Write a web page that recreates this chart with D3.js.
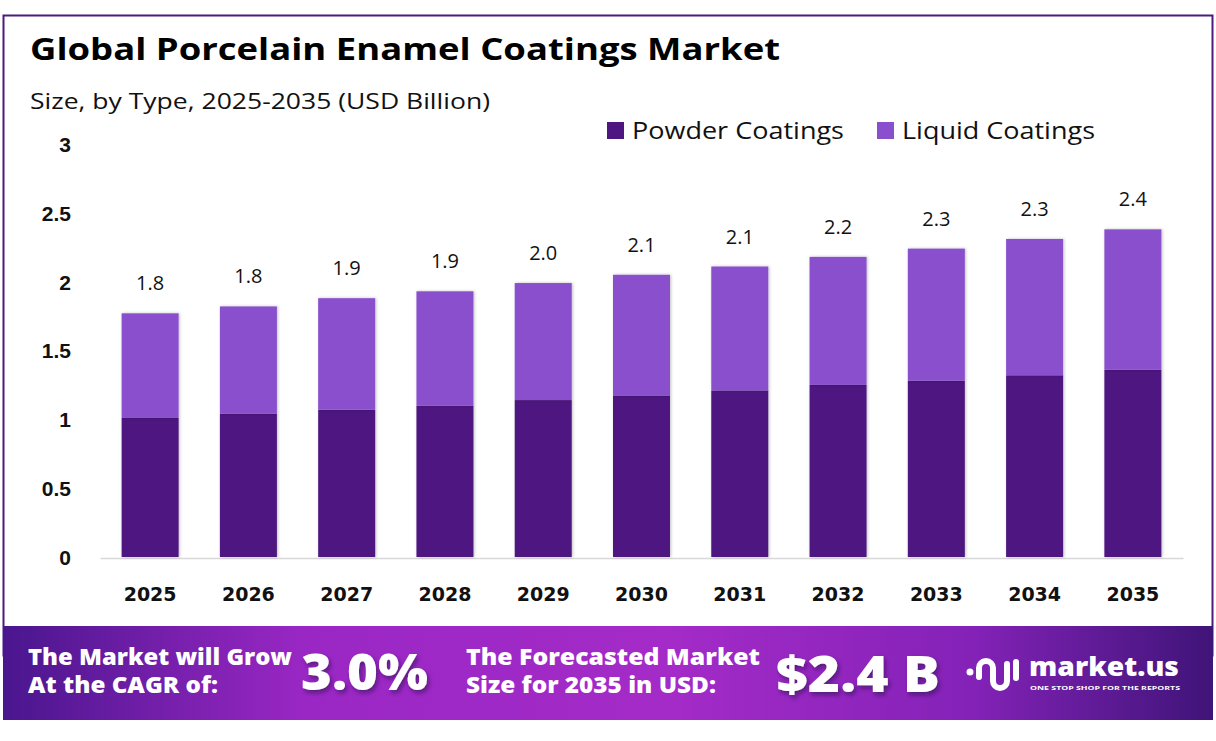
<html>
<head>
<title>Porcelain Enamel Coatings</title>
<script src="https://d3js.org/d3.v7.min.js"></script>
<style>
  body { margin: 0; background: #fff; }
  svg { font-family: "Open Sans", "Noto Sans", sans-serif; }
</style>
</head>
<body>
<script>
// data (USD Billion)
var years = ["2025","2026","2027","2028","2029","2030","2031","2032","2033","2034","2035"];
var powder = [1.01, 1.04, 1.07, 1.10, 1.14, 1.17, 1.21, 1.25, 1.28, 1.32, 1.36];
var liquid = [0.76, 0.78, 0.81, 0.83, 0.85, 0.88, 0.90, 0.93, 0.96, 0.99, 1.02];
var totalLabels = ["1.8","1.8","1.9","1.9","2.0","2.1","2.1","2.2","2.3","2.3","2.4"];
var yTicks = [0, 0.5, 1, 1.5, 2, 2.5, 3];
var seriesNames = ["Powder Coatings", "Liquid Coatings"];
var colors = ["#4e1681", "#8a4fcc"];

var W = 1216, H = 741;
var svg = d3.select("body").append("svg").attr("width", W).attr("height", H);

var defs = svg.append("defs");
var shadow = defs.append("filter").attr("id", "sh").attr("x", "-20%").attr("y", "-10%").attr("width", "140%").attr("height", "120%");
shadow.append("feDropShadow").attr("dx", 1).attr("dy", 0).attr("stdDeviation", 1.5).attr("flood-color", "#000").attr("flood-opacity", 0.25);

var grad = defs.append("linearGradient").attr("id", "foot").attr("x1", "0").attr("x2", "1").attr("y1", "0").attr("y2", "0");
grad.append("stop").attr("offset", "0").attr("stop-color", "#4a168e");
grad.append("stop").attr("offset", "0.25").attr("stop-color", "#9a27c4");
grad.append("stop").attr("offset", "0.55").attr("stop-color", "#a42bc8");
grad.append("stop").attr("offset", "0.8").attr("stop-color", "#8422b8");
grad.append("stop").attr("offset", "1").attr("stop-color", "#3f1478");

var textShadow = defs.append("filter").attr("id", "tsh").attr("x", "-10%").attr("y", "-10%").attr("width", "130%").attr("height", "140%");
textShadow.append("feDropShadow").attr("dx", 2).attr("dy", 3).attr("stdDeviation", 2).attr("flood-color", "#2a0850").attr("flood-opacity", 0.6);

// frame
svg.append("rect").attr("x", 3.5).attr("y", 15.5).attr("width", 1209).attr("height", 640)
  .attr("fill", "none").attr("stroke", "#4b1b7f").attr("stroke-width", 2);

// wide geometric heading font is not installed, so widths are pinned with textLength
function wideText(g, tx, ty, str, size, len, weight) {
  return g.append("text").attr("x", tx).attr("y", ty).text(str)
    .attr("font-size", size).attr("font-weight", weight || 400)
    .attr("textLength", len).attr("lengthAdjust", "spacingAndGlyphs");
}

wideText(svg, 30, 60, "Global Porcelain Enamel Coatings Market", 30, 750, 700).attr("fill", "#000");
wideText(svg, 30, 109, "Size, by Type, 2025-2035 (USD Billion)", 22, 460).attr("fill", "#111");

// legend
var leg = svg.append("g").attr("fill", "#111");
var legX = [607, 877];
var legLen = [212, 193];
seriesNames.forEach(function(n, i) {
  leg.append("rect").attr("x", legX[i]).attr("y", 122).attr("width", 17).attr("height", 17).attr("fill", colors[i]);
  wideText(leg, legX[i] + 25, 139, n, 23, legLen[i]);
});

// scales
var x = d3.scaleBand().domain(years).range([100, 1183]).paddingInner(0.42).paddingOuter(0.22);
var y = d3.scaleLinear().domain([0, 3]).range([557, 144]);

var yAxis = svg.append("g").attr("transform", "translate(74,0)")
  .call(d3.axisLeft(y).tickValues(yTicks).tickSize(0).tickFormat(d3.format("~g")));
yAxis.select(".domain").remove();
yAxis.selectAll("text").style("font-family", "'Liberation Sans', Arial, sans-serif")
  .style("font-size", "21px").style("font-weight", 700).attr("fill", "#111").attr("dy", "0.35em");

var xAxis = svg.append("g").attr("transform", "translate(0,558)")
  .call(d3.axisBottom(x).tickSize(0).tickPadding(30));
xAxis.select(".domain").attr("stroke", "#d8d8d8").attr("stroke-width", 1.5);
xAxis.selectAll("text").style("font-family", "'DejaVu Sans', sans-serif")
  .style("font-size", "19px").style("font-weight", 700).attr("fill", "#111");

// bars
var stackData = years.map(function(yr, i) { return { year: yr, p: powder[i], l: liquid[i] }; });
var stack = d3.stack().keys(["p", "l"])(stackData);
var bars = svg.append("g");
stack.forEach(function(layer, k) {
  bars.append("g").attr("fill", colors[k]).selectAll("rect").data(layer).enter().append("rect")
    .attr("x", function(d) { return x(d.data.year); })
    .attr("width", x.bandwidth())
    .attr("y", function(d) { return y(d[1]); })
    .attr("height", function(d) { return y(d[0]) - y(d[1]); })
    .attr("filter", "url(#sh)");
});

svg.append("g").selectAll("text").data(stack[1]).enter().append("text")
  .attr("x", function(d) { return x(d.data.year) + x.bandwidth() / 2; })
  .attr("y", function(d) { return y(d[1]) - 23; })
  .attr("text-anchor", "middle").attr("font-size", 20).attr("fill", "#111")
  .text(function(d, i) { return totalLabels[i]; });

// footer band
svg.append("rect").attr("x", 3).attr("y", 626).attr("width", 1210).attr("height", 94).attr("fill", "url(#foot)");

var foot = svg.append("g").attr("fill", "#fff");
wideText(foot, 28, 665, "The Market will Grow", 22, 264, 800);
wideText(foot, 28, 693, "At the CAGR of:", 22, 190, 800);
wideText(foot, 301, 690, "3.0%", 50, 127, 800).attr("filter", "url(#tsh)");
wideText(foot, 466, 665, "The Forecasted Market", 22, 294, 800);
wideText(foot, 466, 693, "Size for 2035 in USD:", 22, 250, 800);
wideText(foot, 776, 692, "$2.4 B", 50, 164, 800).attr("filter", "url(#tsh)");

// logo
var logo = svg.append("g").attr("fill", "none").attr("stroke", "#fff").attr("stroke-width", 6).attr("stroke-linecap", "round");
logo.append("circle").attr("cx", 970).attr("cy", 672).attr("r", 3.5).attr("fill", "#fff").attr("stroke", "none");
logo.append("path").attr("d", "M979,677 L979,668 A7,7 0 0 1 993,668 L993,681 A7,7 0 0 0 1007,681 L1007,664");
logo.append("line").attr("x1", 1016).attr("y1", 662).attr("x2", 1016).attr("y2", 678);
wideText(svg, 1029, 676, "market.us", 27, 150, 800).attr("fill", "#fff");
wideText(svg, 1030, 690, "ONE STOP SHOP FOR THE REPORTS", 6, 150, 700).attr("fill", "#fff");
</script>
</body>
</html>
